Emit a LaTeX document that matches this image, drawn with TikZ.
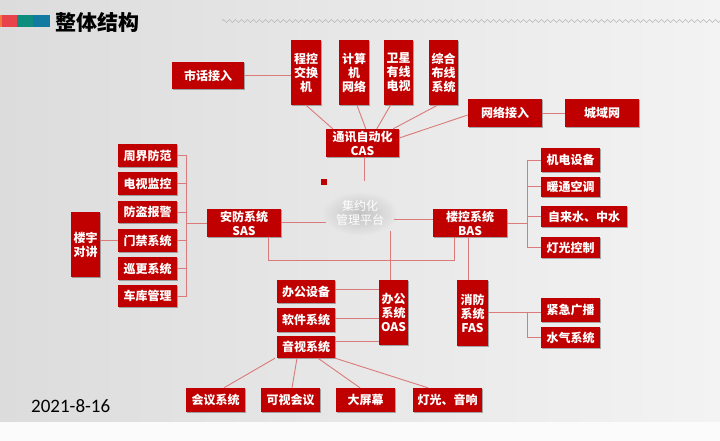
\documentclass[tikz,border=0pt]{standalone}
\usepackage{fontspec}
\newfontfamily\cjk{Noto Sans CJK SC}
\newfontfamily\datefont{Carlito}
\usetikzlibrary{shadows,decorations.pathmorphing,fadings}
\tikzfading[name=softglow, inner color=transparent!0, outer color=transparent!100]
\definecolor{boxred}{RGB}{192,0,0}
\definecolor{linkred}{RGB}{218,122,122}
\definecolor{bgleft}{RGB}{220,220,220}
\definecolor{bgright}{RGB}{243,243,243}
\definecolor{barorange}{RGB}{240,122,60}
\definecolor{barred}{RGB}{232,66,74}
\definecolor{barteal}{RGB}{14,140,126}
\definecolor{barblue}{RGB}{18,121,160}
\tikzset{
  box/.style={fill=boxred, text=white, font=\cjk\bfseries\fontsize{12}{14}\selectfont,
    align=center, inner sep=0pt,
    drop shadow={shadow xshift=1pt,shadow yshift=-1.2pt,opacity=0.3,fill=black}},
  link/.style={draw=linkred, line width=0.9pt},
  ctext/.style={font=\cjk\fontsize{12}{14}\selectfont, align=center, inner sep=0pt},
}
\newcommand\mybox[6]{\node[box,minimum width=#4pt,minimum height=#5pt] (#1) at (#2,#3) {#6};}
\begin{document}
\begin{tikzpicture}[x=1pt,y=-1pt]
\useasboundingbox (0,0) rectangle (720,441);
% background
\shade[left color=bgleft,right color=bgright] (0,0) rectangle (720,422);
\fill[white!97!gray] (0,422) rectangle (720,441);
% header bar
\fill[barorange] (0,15) rectangle (2,27);
\fill[barred] (2,15) rectangle (17,27);
\fill[barteal] (17,15) rectangle (33,27);
\fill[barblue] (33,15) rectangle (50,27);
\node[font=\cjk\bfseries\fontsize{21}{24}\selectfont, inner sep=0pt] (title) at (97.5,22.5) {整体结构};
\draw[gray!55, line width=0.6pt, decorate, decoration={zigzag,segment length=6pt,amplitude=1.5pt}] (222,21) -- (720,21);
% date
\node[font=\datefont\fontsize{19}{22}\selectfont, anchor=base west, inner sep=0pt] (date) at (31,412) {2021-8-16};

% boxes
\mybox{shihua}{208}{75.5}{72}{27}{市话接入}
\mybox{chengkong}{306}{72.5}{30}{65}{程控\\交换\\机}
\mybox{jisuanji}{354}{72.5}{30}{65}{计算\\机\\网络}
\mybox{weixing}{398.5}{72.5}{29}{65}{卫星\\有线\\电视}
\mybox{zonghe}{443.5}{72.5}{29}{65}{综合\\布线\\系统}
\mybox{cas}{362.5}{143}{73}{28}{通讯自动化\\CAS}
\mybox{wangluo}{505}{113}{74}{28}{网络接入}
\mybox{chengyu}{602}{113}{74}{28}{城域网}

\mybox{jidian}{570.5}{160}{59}{24}{机电设备}
\mybox{nuantong}{570.5}{186.5}{59}{20}{暖通空调}
\mybox{zilaishui}{584}{216.5}{86}{21}{自来水、中水}
\mybox{dengguang}{570.5}{247.5}{59}{21}{灯光控制}
\mybox{bas}{470}{223}{74}{28}{楼控系统\\BAS}

\mybox{zhoujie}{147.5}{155.5}{59}{23}{周界防范}
\mybox{dianshi}{147.5}{183.5}{59}{23}{电视监控}
\mybox{fangdao}{147.5}{212}{59}{22}{防盗报警}
\mybox{menjin}{147.5}{240.5}{59}{23}{门禁系统}
\mybox{xungeng}{147.5}{268.5}{59}{23}{巡更系统}
\mybox{cheku}{147.5}{296}{59}{22}{车库管理}
\mybox{louyu}{85.5}{244.5}{29}{65}{楼宇\\对讲}
\mybox{sas}{244}{223}{74}{28}{安防系统\\SAS}

\mybox{bangong}{306}{291.5}{58}{23}{办公设备}
\mybox{ruanjian}{306}{320}{58}{24}{软件系统}
\mybox{yinshi}{306}{347}{58}{22}{音视系统}
\mybox{oas}{393.5}{312.5}{29}{65}{办公\\系统\\OAS}

\mybox{fas}{472.5}{313}{31}{66}{消防\\系统\\FAS}
\mybox{jinji}{570.5}{310}{59}{24}{紧急广播}
\mybox{shuiqi}{570.5}{337.5}{59}{21}{水气系统}

\mybox{huiyi}{215.5}{400}{59}{24}{会议系统}
\mybox{keshi}{290.5}{400}{59}{24}{可视会议}
\mybox{daping}{365.5}{400}{59}{24}{大屏幕}
\mybox{denggy}{447.5}{400}{69}{24}{灯光、音响}

% center
\fill[boxred] (321,179) rectangle (327,185);
\fill[black, opacity=0.16, path fading=softglow] (360,213.5) ellipse [x radius=38pt, y radius=22pt];
\node[ctext, text=white] (center) at (360,213) {集约化\\管理平台};
\coordinate (casend) at (364,181);
\coordinate (cleft) at (326,222);
\coordinate (cright) at (394,219);
\coordinate (cbottom) at (390,231);

% connectors
\draw[link] (shihua.east) -- (shihua.east -| chengkong.west);
\draw[link] (chengkong.south) -- ([xshift=7pt]cas.north west);
\draw[link] ([xshift=3pt]jisuanji.south) -- ([xshift=40pt]cas.north west);
\draw[link] ([xshift=-8pt]weixing.south) -- ([xshift=51pt]cas.north west);
\draw[link] ([xshift=-6pt]zonghe.south) -- ([xshift=-6pt]cas.north east);
\draw[link] ([yshift=5pt]cas.east) -- ([yshift=-2pt]wangluo.west);
\draw[link] (wangluo.east) -- (chengyu.west);
\draw[link] ([xshift=1.5pt]cas.south) -- (casend);

\draw[link] ([yshift=1pt]sas.east) -- (cleft);
\draw[link] (cright) -- (cright -| bas.west);
\draw[link] (cbottom) -- (cbottom |- oas.north);
\draw[link] ([xshift=24pt]sas.south) -- ++(0,23) -| ([xshift=-16pt]bas.south);
\draw[link] ([xshift=-2pt]bas.south) -- ([xshift=-2pt]bas.south |- fas.north);

\foreach \c in {jidian,nuantong,zilaishui,dengguang}
  \draw[link] (bas.east) -- ++(20,0) |- (\c.west);
\foreach \c in {zhoujie,dianshi,fangdao,menjin,xungeng,cheku}
  \draw[link] (sas.west) -- ++(-20,0) |- (\c.east);
\draw[link] (menjin.west -| louyu.east) -- (menjin.west);

\draw[link] ([yshift=2pt]bangong.east) -- ([yshift=2pt]bangong.east -| oas.west);
\draw[link] ([yshift=2pt]ruanjian.east) -- ([yshift=2pt]ruanjian.east -| oas.west);
\draw[link] ([yshift=6pt]yinshi.east) -- ([yshift=6pt]yinshi.east -| oas.west);

\draw[link] ([yshift=1pt]fas.east) -- ([yshift=1pt]fas.east -| jinji.west);
\draw[link] ([yshift=1pt]fas.east) -- ++(39,0) |- (shuiqi.west);

\draw[link] ([xshift=-31pt]yinshi.south) -- ([xshift=8.5pt]huiyi.north);
\draw[link] ([xshift=-9pt]yinshi.south) -- ([xshift=1.5pt]keshi.north);
\draw[link] ([xshift=12pt]yinshi.south) -- ([xshift=-5.5pt]daping.north);
\draw[link] (yinshi.south east) -- ([xshift=-19.5pt]denggy.north);
\end{tikzpicture}
\end{document}
